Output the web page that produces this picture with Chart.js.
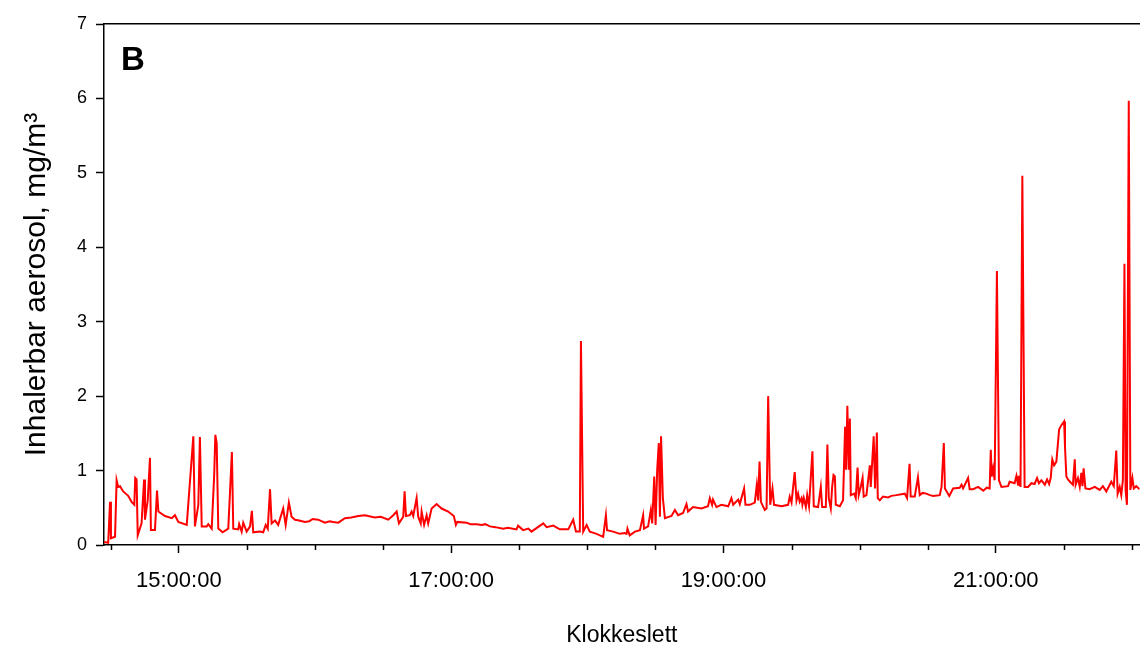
<!DOCTYPE html>
<html><head><meta charset="utf-8">
<script src="https://cdn.jsdelivr.net/npm/chart.js@4/dist/chart.umd.min.js"></script>
<style>html,body{margin:0;padding:0;background:#fff;overflow:hidden}#wrap{width:1147px;height:649px;position:relative}</style>
</head><body><div id="wrap"><canvas id="c"></canvas></div>
<script>
// minutes after 14:00
const timeMin=[27.1,28.9,29.7,30.1,31.9,32.6,33.3,34.1,35.5,37.7,39.2,40.4,40.8,41.4,41.9,43.6,44.7,45.1,46.3,47.3,47.7,49.5,50.4,51.0,53.9,56.9,58.3,59.8,63.5,66.4,67.1,68.6,69.3,70.1,72.3,73.0,74.5,75.6,76.1,76.7,77.4,79.3,81.8,83.4,84.0,86.2,86.6,87.7,88.4,89.9,91.4,92.2,92.8,95.8,97.2,98.3,99.2,100.2,100.9,102.4,103.8,106.0,107.1,108.5,109.7,111.2,115.6,121.4,124.4,130.3,133.2,139.1,146.4,152.3,154.5,156.0,157.0,158.9,159.5,160.1,161.8,162.6,163.3,164.8,165.5,166.6,167.0,168.1,169.2,169.9,171.4,173.6,175.8,178.7,179.5,181.2,182.1,182.7,186.8,191.2,197.1,202.9,208.8,209.5,211.7,214.0,215.4,220.6,222.1,225.0,227.9,231.6,233.8,235.0,236.7,237.2,238.2,239.7,241.1,244.1,247.0,248.2,248.7,251.4,254.3,256.5,257.3,257.7,258.7,261.0,263.2,264.6,265.0,266.8,268.0,268.6,269.5,270.1,270.8,271.5,272.0,272.5,273.3,274.2,277.1,278.6,280.0,282.2,283.7,284.4,286.6,290.3,293.2,294.0,295.0,295.4,296.9,299.1,302.1,303.5,304.3,306.5,307.2,309.1,309.7,311.6,313.8,314.7,315.3,315.9,316.5,318.2,319.0,319.7,320.6,321.6,322.3,325.6,328.5,329.2,330.0,331.4,332.2,332.9,333.6,334.4,334.8,335.4,336.3,336.9,337.7,339.2,339.8,341.7,342.9,343.5,345.1,345.8,346.4,347.3,347.9,348.5,349.1,349.5,351.3,352.7,353.6,354.0,354.6,355.2,355.7,356.1,357.6,358.3,359.1,359.6,360.5,361.3,361.8,363.0,364.5,364.9,366.2,366.8,367.6,368.0,368.9,370.3,376.2,379.9,380.9,382.0,382.5,384.3,385.7,386.5,389.4,392.4,395.3,396.1,397.1,397.6,401.2,404.1,404.9,405.6,407.8,408.5,412.2,417.3,417.8,418.2,418.8,419.5,420.5,421.4,422.5,425.4,426.1,428.3,429.1,429.8,430.1,430.9,431.7,432.7,434.2,435.7,437.1,438.2,439.0,440.1,441.6,442.6,443.5,444.2,444.9,445.7,446.7,447.9,448.9,450.1,450.5,451.1,451.8,453.0,454.0,454.8,455.2,456.2,457.0,457.7,458.2,458.7,459.5,461.4,463.6,465.8,467.2,468.7,470.9,472.0,473.1,473.7,474.6,475.3,476.0,476.7,477.2,477.8,478.6,479.3,480.2,480.8,481.9,483.4,
  113.0,117.5,119.0,126.5,128.0,136.0,142.0,149.0,188.5,193.5,195.0,199.5,205.0,372.5,374.0,387.8,391.0,399.5,410.0,414.5,416.0];
const aerosol=[0.04,0.03,0.58,0.09,0.11,0.87,0.78,0.79,0.72,0.66,0.58,0.54,0.90,0.88,0.13,0.29,0.88,0.34,0.60,1.17,0.20,0.20,0.73,0.45,0.39,0.36,0.40,0.31,0.27,1.46,0.25,0.54,1.45,0.25,0.25,0.28,0.22,0.94,1.48,1.37,0.22,0.17,0.22,1.25,0.22,0.21,0.28,0.18,0.30,0.18,0.25,0.46,0.17,0.18,0.17,0.27,0.22,0.75,0.29,0.33,0.27,0.49,0.27,0.57,0.38,0.34,0.31,0.34,0.30,0.30,0.36,0.39,0.37,0.34,0.40,0.45,0.29,0.38,0.72,0.39,0.40,0.45,0.39,0.63,0.38,0.29,0.45,0.27,0.40,0.29,0.49,0.55,0.49,0.45,0.43,0.39,0.27,0.31,0.30,0.28,0.25,0.22,0.21,0.26,0.20,0.22,0.18,0.29,0.24,0.26,0.21,0.21,0.34,0.18,0.18,2.74,0.18,0.27,0.18,0.15,0.11,0.40,0.20,0.18,0.15,0.16,0.15,0.22,0.13,0.18,0.20,0.40,0.22,0.25,0.47,0.29,0.92,0.27,1.01,1.37,0.38,1.46,0.63,0.36,0.39,0.47,0.40,0.43,0.55,0.45,0.51,0.49,0.52,0.63,0.54,0.61,0.51,0.54,0.52,0.63,0.54,0.61,0.55,0.76,0.54,0.54,0.57,0.81,0.60,1.12,0.58,0.47,0.49,2.00,0.54,0.76,0.54,0.52,0.54,0.65,0.57,0.98,0.60,0.69,0.58,0.63,0.54,0.63,0.51,0.67,0.52,1.26,0.52,0.51,0.78,0.51,0.51,1.35,0.63,0.49,0.78,0.94,0.92,0.54,0.52,0.60,1.59,1.01,1.87,1.01,1.70,0.67,0.69,0.63,1.04,0.67,0.78,0.90,0.65,0.67,1.07,0.78,1.46,0.76,1.51,0.63,0.60,0.65,0.67,0.69,0.63,1.09,0.65,0.65,0.91,0.67,0.69,0.66,0.67,0.78,1.37,0.76,0.76,0.77,0.81,0.76,0.90,0.75,0.78,0.76,1.28,0.92,1.03,0.87,3.68,0.87,0.78,0.79,0.85,0.83,0.93,0.81,0.93,0.78,4.96,0.78,0.78,0.83,0.82,0.90,0.83,0.87,0.81,0.88,0.82,0.90,1.15,1.07,1.12,1.55,1.61,1.66,1.32,0.92,0.88,0.84,0.81,1.15,0.81,0.90,0.78,0.97,0.79,1.03,0.76,0.75,0.78,0.74,0.79,0.72,0.85,0.79,1.27,0.69,0.78,0.67,0.87,3.78,0.74,0.54,5.97,0.74,0.90,0.76,0.79,0.75,
  0.33,0.32,0.35,0.32,0.31,0.37,0.40,0.38,0.28,0.27,0.28,0.24,0.23,0.64,0.66,0.70,0.67,0.66,0.75,0.73,0.77];
const tickMinutes=[30,60,90,120,150,180,210,240,270,300,330,360,390,420,450,480];
const labelMinutes=[60,180,300,420];
const tickLabels=['15:00:00','17:00:00','19:00:00','21:00:00'];
const xMin=27.04, xMax=483.4;
const yMax=7;
const panelLetter='B';

const FONT="'Liberation Sans', Arial, sans-serif";

const extras={
  id:'extras',
  afterDraw(chart){
    const {ctx,chartArea,scales}=chart;const x=scales.x;
    ctx.save();
    // short minor ticks
    ctx.strokeStyle='#000';ctx.lineWidth=1.5;
    tickMinutes.forEach(v=>{
      if(labelMinutes.includes(v))return;
      const px=Math.round(x.getPixelForValue(v))+0.5;
      ctx.beginPath();ctx.moveTo(px,chartArea.bottom);ctx.lineTo(px,chartArea.bottom+5);ctx.stroke();
    });
    ctx.fillStyle='#000';ctx.font='bold 33px '+FONT;ctx.textBaseline='alphabetic';
    ctx.fillText(panelLetter,chartArea.left+17,chartArea.top+46);
    ctx.restore();
  }
};

const points=timeMin.map((t,i)=>({x:t,y:aerosol[i]})).sort((a,b)=>a.x-b.x);

new Chart(document.getElementById('c'),{
  type:'line',
  data:{datasets:[{
    data:points,
    borderColor:'#ff0000',borderWidth:2,pointRadius:0,tension:0,fill:false
  }]},
  options:{
    responsive:true,maintainAspectRatio:false,animation:false,
    layout:{padding:{top:24,right:0,left:0,bottom:0}},
    plugins:{legend:{display:false},tooltip:{enabled:false}},
    scales:{
      x:{type:'linear',position:'bottom',min:xMin,max:xMax,
        afterBuildTicks:s=>{s.ticks=tickMinutes.map(v=>({value:v}));},
        afterFit:s=>{s.height=104;},
        grid:{drawOnChartArea:false,tickLength:8,tickWidth:1.5,
          tickColor:c=>labelMinutes.includes(c.tick&&c.tick.value)?'#000':'rgba(0,0,0,0)'},
        border:{display:true,color:'#000',width:1.5},
        ticks:{autoSkip:false,maxRotation:0,padding:15,color:'#000',font:{family:FONT,size:22},
          callback:v=>{const k=labelMinutes.indexOf(v);return k<0?'':tickLabels[k];}},
        title:{display:true,text:'Klokkeslett',color:'#000',font:{family:FONT,size:23},padding:{top:0,bottom:0}}
      },
      xTop:{type:'linear',position:'top',min:xMin,max:xMax,
        afterFit:s=>{s.height=0;},
        grid:{drawOnChartArea:false,drawTicks:false},
        border:{display:true,color:'#000',width:1.5},
        ticks:{display:false}
      },
      y:{min:0,max:yMax,
        afterFit:s=>{s.width=104;},
        ticks:{stepSize:1,padding:9,color:'#000',font:{family:FONT,size:18}},
        grid:{drawOnChartArea:false,tickLength:8,tickWidth:1.5,tickColor:'#000'},
        border:{display:true,color:'#000',width:1.5},
        title:{display:true,text:'Inhalerbar aerosol, mg/m³',color:'#000',font:{family:FONT,size:30},padding:{top:19,bottom:0}}
      }
    }
  },
  plugins:[extras]
});
</script>
</body></html>
